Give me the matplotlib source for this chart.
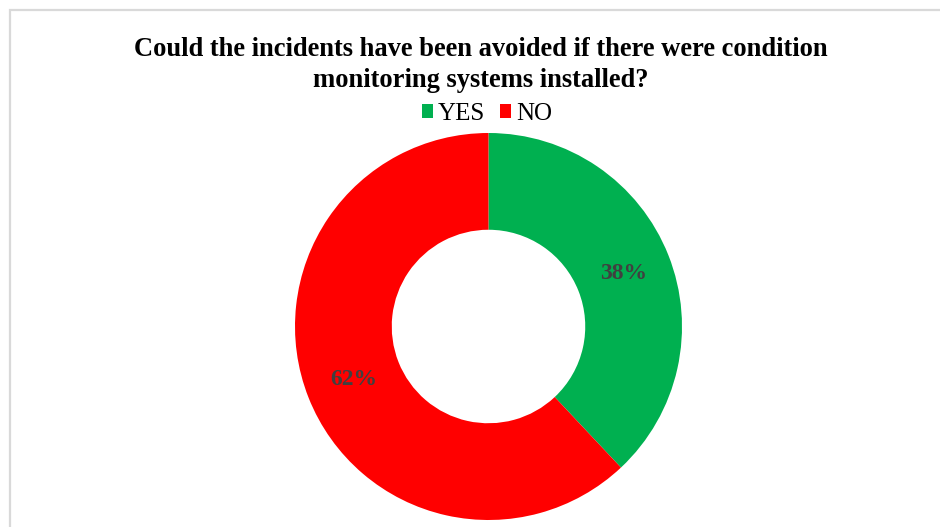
import matplotlib
matplotlib.use("Agg")
import matplotlib.pyplot as plt
from matplotlib.patches import Rectangle

categories = ["YES", "NO"]
shares = [38, 62]
colors = ["#00B050", "#FF0000"]
title = "Could the incidents have been avoided if there were condition\nmonitoring systems installed?"

W, H = 940, 527
fig = plt.figure(figsize=(W / 100, H / 100), dpi=100)
fig.patch.set_facecolor("white")

# chart frame (runs off the right and bottom edges)
fig.add_artist(Rectangle((9.5 / W, -0.05), 1.1, 1.05 - 10 / H, transform=fig.transFigure,
                         fill=False, edgecolor="#D9D9D9", linewidth=1.6))

# donut
cx, cy, r = 488.5, 326.5, 193.5
ax = fig.add_axes([(cx - r) / W, (H - cy - r) / H, 2 * r / W, 2 * r / H])
wedges, _, autotexts = ax.pie(
    shares, colors=colors, startangle=90, counterclock=False, radius=1.0,
    wedgeprops=dict(width=0.5, edgecolor="none"),
    autopct=lambda p: f"{p:.0f}%", pctdistance=0.75,
    textprops=dict(family="Liberation Serif", fontweight="bold", fontsize=17, color="#404040"),
)
ax.set_xlim(-1, 1)
ax.set_ylim(-1, 1)
ax.set_aspect("equal")
ax.axis("off")

fig.text(481 / W, 1 - 65 / H, title, ha="center", va="center", family="Liberation Serif",
         fontweight="bold", fontsize=19.1, linespacing=1.3)

fig.legend(wedges, categories, loc="center", bbox_to_anchor=(487 / W, 1 - 114 / H), ncol=2,
           frameon=False, prop=dict(family="Liberation Serif", size=18),
           handlelength=0.45, handleheight=0.45, handletextpad=0.2, columnspacing=0.6)

fig.savefig("out.png", dpi=100)
